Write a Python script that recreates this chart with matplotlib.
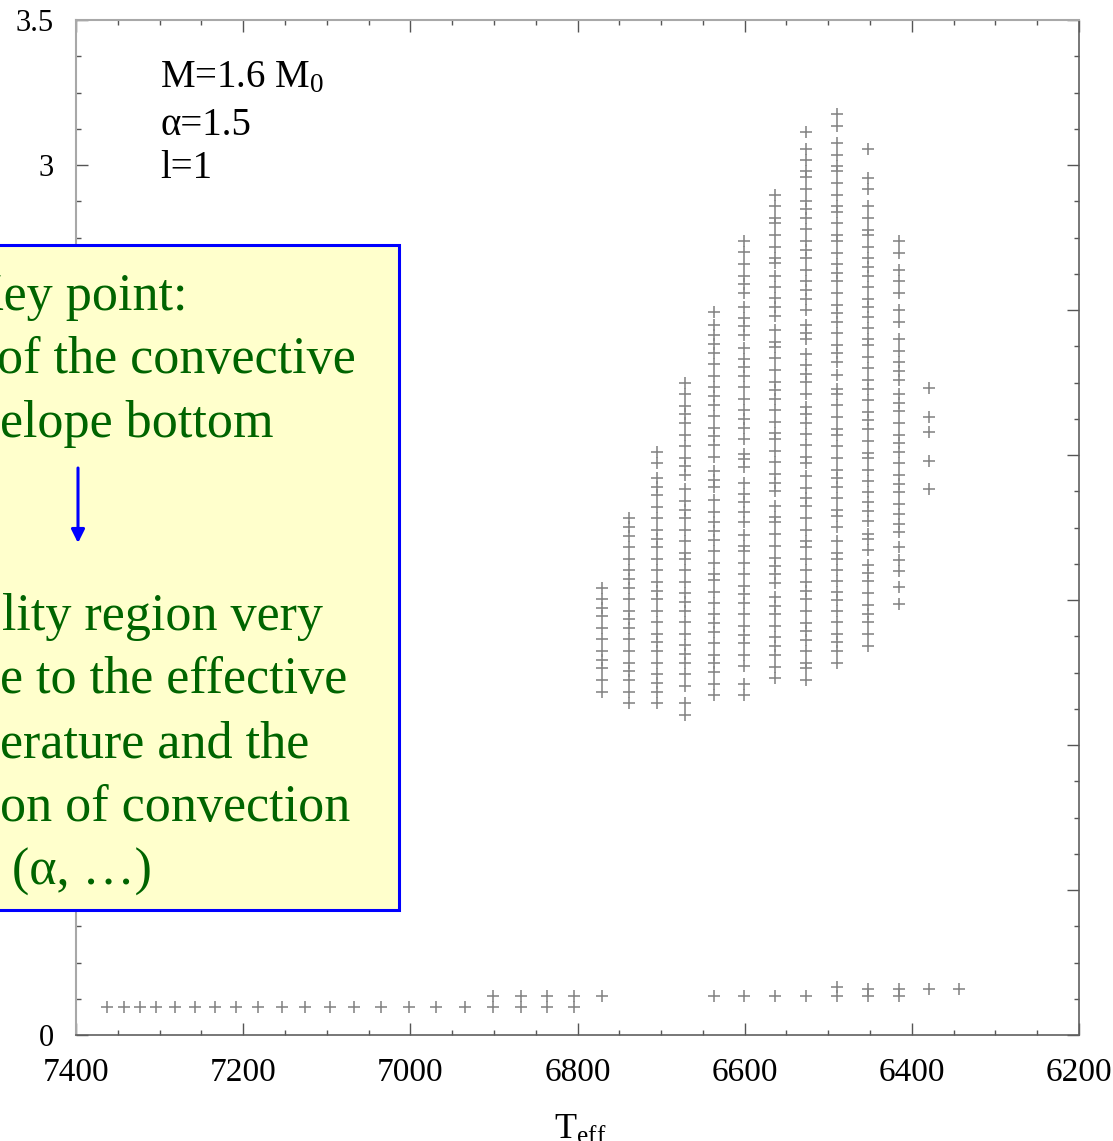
import matplotlib
matplotlib.use("Agg")
import matplotlib.pyplot as plt
from matplotlib.ticker import MultipleLocator, FuncFormatter
from matplotlib.patches import Rectangle, FancyArrowPatch

plt.rcParams['font.family'] = ['Liberation Serif', 'DejaVu Serif']
plt.rcParams['mathtext.fontset'] = 'custom'
plt.rcParams['mathtext.rm'] = 'Liberation Serif'
plt.rcParams['mathtext.it'] = 'Liberation Serif:italic'

# ---- unstable modes: log(frequency) vs effective temperature ----
# columns of unstable modes (Teff in K)
teff_columns = [6771, 6738, 6705, 6671, 6637, 6601, 6564, 6527, 6490, 6452, 6415, 6379]

nu_6771 = [1.542, 1.502, 1.472, 1.444, 1.403, 1.364, 1.324, 1.294, 1.266, 1.224, 1.184]
nu_6738 = [1.782, 1.752, 1.722, 1.682, 1.641, 1.602, 1.572, 1.542, 1.502, 1.462, 1.433,
           1.403, 1.364, 1.324, 1.284, 1.255, 1.224, 1.184, 1.146]
nu_6705 = [2.011, 1.971, 1.921, 1.891, 1.861, 1.821, 1.782, 1.741, 1.711, 1.682, 1.641,
           1.602, 1.562, 1.532, 1.502, 1.462, 1.423, 1.384, 1.354, 1.324, 1.282, 1.244,
           1.214, 1.184, 1.146]
nu_6671 = [2.249, 2.209, 2.169, 2.140, 2.110, 2.070, 2.031, 1.990, 1.961, 1.931, 1.883,
           1.841, 1.810, 1.782, 1.740, 1.702, 1.662, 1.641, 1.602, 1.562, 1.523, 1.492,
           1.462, 1.423, 1.384, 1.344, 1.314, 1.282, 1.245, 1.203, 1.146, 1.103]
nu_6637 = [2.492, 2.449, 2.413, 2.382, 2.351, 2.313, 2.272, 2.233, 2.203, 2.172, 2.134,
           2.093, 2.066, 2.034, 1.994, 1.946, 1.915, 1.889, 1.846, 1.804, 1.768, 1.737,
           1.708, 1.669, 1.629, 1.589, 1.569, 1.529, 1.489, 1.451, 1.420, 1.389, 1.352,
           1.310, 1.282, 1.253, 1.210, 1.172]
nu_6601 = [2.738, 2.699, 2.659, 2.617, 2.590, 2.560, 2.511, 2.471, 2.446, 2.413, 2.370,
           2.332, 2.305, 2.272, 2.233, 2.192, 2.155, 2.125, 2.093, 2.055, 2.003, 1.986,
           1.958, 1.903, 1.867, 1.837, 1.804, 1.768, 1.725, 1.687, 1.669, 1.629, 1.589,
           1.548, 1.520, 1.489, 1.451, 1.410, 1.380, 1.352, 1.310, 1.272, 1.210, 1.172]
nu_6564 = [2.897, 2.859, 2.816, 2.799, 2.759, 2.718, 2.678, 2.661, 2.617, 2.580, 2.540,
           2.511, 2.480, 2.431, 2.391, 2.374, 2.333, 2.293, 2.253, 2.224, 2.192, 2.155,
           2.113, 2.075, 2.056, 2.015, 1.977, 1.934, 1.904, 1.877, 1.825, 1.787, 1.768,
           1.728, 1.687, 1.646, 1.617, 1.589, 1.558, 1.512, 1.479, 1.451, 1.410, 1.371,
           1.341, 1.310, 1.270, 1.232]
nu_6527 = [3.115, 3.055, 3.017, 2.978, 2.958, 2.916, 2.877, 2.848, 2.816, 2.780, 2.738,
           2.708, 2.679, 2.638, 2.601, 2.569, 2.537, 2.500, 2.448, 2.420, 2.399, 2.348,
           2.310, 2.280, 2.251, 2.210, 2.167, 2.141, 2.111, 2.072, 2.033, 1.992, 1.972,
           1.929, 1.885, 1.852, 1.823, 1.784, 1.743, 1.704, 1.683, 1.641, 1.602, 1.561,
           1.531, 1.503, 1.462, 1.421, 1.392, 1.362, 1.323, 1.282, 1.265, 1.224]
nu_6490 = [3.175, 3.134, 3.075, 3.036, 2.997, 2.978, 2.938, 2.897, 2.858, 2.839, 2.799,
           2.760, 2.739, 2.698, 2.658, 2.627, 2.599, 2.559, 2.517, 2.491, 2.459, 2.420,
           2.378, 2.352, 2.319, 2.277, 2.228, 2.210, 2.171, 2.131, 2.089, 2.070, 2.031,
           1.989, 1.950, 1.920, 1.890, 1.852, 1.810, 1.791, 1.752, 1.704, 1.661, 1.642,
           1.602, 1.565, 1.526, 1.501, 1.462, 1.424, 1.382, 1.356, 1.323, 1.282]
nu_6452 = [3.056, 2.955, 2.916, 2.857, 2.816, 2.777, 2.757, 2.716, 2.679, 2.647, 2.617,
           2.578, 2.539, 2.511, 2.477, 2.439, 2.399, 2.378, 2.339, 2.299, 2.258, 2.228,
           2.189, 2.150, 2.119, 2.088, 2.050, 2.007, 1.989, 1.950, 1.911, 1.872, 1.839,
           1.808, 1.771, 1.729, 1.710, 1.671, 1.622, 1.592, 1.564, 1.525, 1.483, 1.453,
           1.423, 1.382, 1.343]
nu_6415 = [2.738, 2.698, 2.638, 2.600, 2.557, 2.500, 2.457, 2.400, 2.359, 2.322, 2.290,
           2.259, 2.209, 2.178, 2.152, 2.109, 2.069, 2.040, 2.009, 1.971, 1.931, 1.900,
           1.874, 1.831, 1.795, 1.762, 1.733, 1.682, 1.638, 1.600, 1.544, 1.485]
nu_6379 = [2.230, 2.130, 2.078, 1.979, 1.882]

nu_columns = [nu_6771, nu_6738, nu_6705, nu_6671, nu_6637, nu_6601,
              nu_6564, nu_6527, nu_6490, nu_6452, nu_6415, nu_6379]

# low-frequency modes
teff_low = [7363, 7342, 7324, 7304, 7281, 7258, 7234, 7209, 7182, 7154, 7126,
            7096, 7067, 7035, 7002, 6969, 6934, 6901, 6867, 6836, 6804]
nu_low = [0.095, 0.095, 0.095, 0.095, 0.095, 0.095, 0.095, 0.095, 0.095, 0.095, 0.095,
          0.095, 0.095, 0.095, 0.095, 0.095, 0.095, 0.095, 0.095, 0.095, 0.095]
teff_mid = [6901, 6867, 6836, 6804, 6771, 6637, 6601, 6564, 6527, 6490, 6452, 6415]
nu_mid = [0.135, 0.135, 0.135, 0.135, 0.135, 0.135, 0.135, 0.135, 0.135, 0.135, 0.135, 0.135]
teff_high = [6490, 6452, 6415, 6379, 6344]
nu_high = [0.166, 0.158, 0.158, 0.158, 0.158]

# y tick labels left uncovered by the note box
y_labels_shown = [0.0, 3.0, 3.5]

info_lines = ["M=1.6 M$_0$", "\u03b1=1.5", "l=1"]
note_top = ["Key point:", "of the convective", "elope bottom"]
note_bottom = ["lity region very", "e to the effective", "erature and the",
               "on of convection", "(\u03b1, \u2026)"]

W, H = 1113, 1141
fig = plt.figure(figsize=(W / 100, H / 100), dpi=100)
fig.patch.set_facecolor('white')


def fx(x):
    return x / W


def fy(y):
    return 1 - y / H


ax = fig.add_axes([fx(76), fy(1035), (1079 - 76) / W, (1035 - 20) / H])

mk = dict(linestyle='none', marker='+', color='#858585', markersize=8.2, markeredgewidth=1.15)
for t, vals in zip(teff_columns, nu_columns):
    ax.plot([t] * len(vals), vals, **mk)
ax.plot(teff_low, nu_low, **mk)
ax.plot(teff_mid, nu_mid, **mk)
ax.plot(teff_high, nu_high, **mk)

ax.set_xlim(7400, 6200)
ax.set_ylim(0, 3.5)
ax.xaxis.set_major_locator(MultipleLocator(200))
ax.xaxis.set_minor_locator(MultipleLocator(50))
ax.yaxis.set_major_locator(MultipleLocator(0.5))
ax.yaxis.set_minor_locator(MultipleLocator(0.125))
ax.yaxis.set_major_formatter(FuncFormatter(
    lambda v, p: ('%g' % v) if any(abs(v - s) < 1e-6 for s in y_labels_shown) else ''))

ax.tick_params(which='both', direction='in', top=True, right=True, color='#555555', width=1.0)
ax.tick_params(which='major', length=8.6)
ax.tick_params(which='minor', length=3.6)
ax.tick_params(axis='x', which='major', labelsize=24, pad=16.5)
ax.tick_params(axis='y', which='major', labelsize=22, pad=16.0)

for side in ('left', 'top'):
    ax.spines[side].set_color('#a8a8a8')
    ax.spines[side].set_linewidth(1.5)
for side in ('bottom', 'right'):
    ax.spines[side].set_color('#606060')
    ax.spines[side].set_linewidth(1.2)

ax.set_xlabel(r'T$_{\mathrm{eff}}$', fontsize=26)
ax.xaxis.set_label_coords(0.503, -0.1025)
ax.xaxis.label.set_va('baseline')

# model parameters
for txt, base in zip(info_lines, [87, 135, 178]):
    fig.text(fx(160), fy(base), txt, fontsize=28, va='baseline', ha='left', color='black')

# annotation box
box = Rectangle((fx(-10), fy(910)), (399 + 10) / W, (910 - 245) / H,
                transform=fig.transFigure, facecolor='#ffffcc', edgecolor='#0000ff',
                linewidth=2.2, zorder=5)
fig.add_artist(box)

green = '#006400'
for txt, base, x0 in zip(note_top, [310, 373, 437], [-34, -3, 0]):
    fig.text(fx(x0), fy(base), txt, fontsize=37.5, color=green, va='baseline',
             ha='left', zorder=6)
for txt, base, x0 in zip(note_bottom, [630, 693, 757, 821, 885], [2, 0, 0, 0, 12]):
    fig.text(fx(x0), fy(base), txt, fontsize=37.5, color=green, va='baseline',
             ha='left', zorder=6)

arrow = FancyArrowPatch((fx(78), fy(468)), (fx(78), fy(543)), transform=fig.transFigure,
                        arrowstyle='-|>', mutation_scale=20, color='#0000ff',
                        linewidth=2.2, shrinkA=0, shrinkB=0, zorder=7)
fig.add_artist(arrow)

fig.savefig('out.png', dpi=100)
